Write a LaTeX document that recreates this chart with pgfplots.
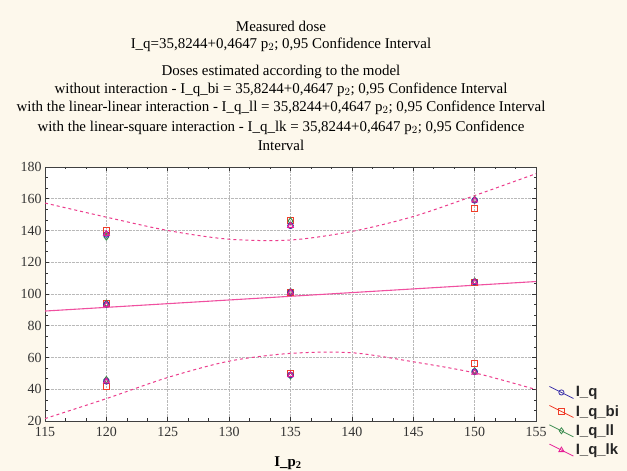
\documentclass[border=0pt]{standalone}
\usepackage{pgfplots}
\pgfplotsset{compat=1.18}
\usepackage{fontspec}
\setmainfont{Liberation Serif}
\newfontfamily\legfont{Liberation Sans}
\definecolor{cream}{RGB}{253,248,236}
\definecolor{bandpink}{RGB}{236,60,140}
\definecolor{linepink}{RGB}{240,80,160}
\definecolor{cIq}{RGB}{60,50,170}
\definecolor{cbi}{RGB}{240,60,40}
\definecolor{cll}{RGB}{60,140,80}
\definecolor{clk}{RGB}{230,30,150}
\begin{document}
\begin{tikzpicture}[x=1bp,y=1bp]
\fill[cream] (0,0) rectangle (627,471);
\tikzset{tl/.style={font=\fontsize{15}{17}\selectfont, text height=10.5bp, text depth=3.5bp, anchor=center, inner sep=0pt}}
\node[tl] at (281,443) {Measured dose};
\node[tl] at (281,426) {I\_q=35,8244+0,4647 p$_2$; 0,95 Confidence Interval};
\node[tl] at (281,399) {Doses estimated according to the model};
\node[tl] at (281,381) {without interaction - I\_q\_bi = 35,8244+0,4647 p$_2$; 0,95 Confidence Interval};
\node[tl] at (281,363) {with the linear-linear interaction - I\_q\_ll = 35,8244+0,4647 p$_2$; 0,95 Confidence Interval};
\node[tl] at (281,343) {with the linear-square interaction - I\_q\_lk = 35,8244+0,4647 p$_2$; 0,95 Confidence};
\node[tl] at (281,324) {Interval};
\node[font=\fontsize{15}{17}\selectfont\bfseries, anchor=center, inner sep=0pt] at (288,8) {I\_p$_{\mathbf 2}$};
\begin{axis}[
  at={(45bp,50bp)}, anchor=south west,
  scale only axis, width=491bp, height=254bp,
  xmin=115, xmax=155, ymin=20, ymax=180,
  xtick distance=5, ytick distance=20, minor tick num=2,
  xtick pos=both, ytick pos=both, tick align=inside,
  major tick length=4bp, minor tick length=2.5bp,
  tick style={black!80, line width=0.6bp},
  axis line style={black!75, line width=0.9bp},
  grid=major, major grid style={densely dotted, gray!55, line width=0.6bp},
  axis background/.style={fill=white},
  /pgf/number format/assume math mode=true,
  ticklabel style={font=\fontsize{14}{16}\selectfont, text=black!80},
  xticklabel style={yshift=-3bp},
  legend style={at={(1.02,0.152)}, anchor=north west, draw=none, fill=none,
    font=\legfont\bfseries\fontsize{15}{17}\selectfont, row sep=3bp,
    nodes={text=black!85}},
  legend cell align=left,
  legend image code/.code={\draw[#1, mark repeat=2, mark phase=2] plot coordinates {(0bp,6bp) (12bp,0bp) (24bp,-6bp)};},
]
% confidence bands
\addplot[bandpink, line width=1bp, dash pattern=on 3bp off 3bp, smooth, forget plot] coordinates {
(115,157.3) (120,148.4) (125,140) (130,134.5) (135,134) (140,139.4) (145,148.8) (150,162) (155,175.8)};
\addplot[bandpink, line width=1bp, dash pattern=on 3bp off 3bp, smooth, forget plot] coordinates {
(115,21.5) (120,34.1) (125,47.4) (130,57.7) (135,62.6) (140,63) (145,57.3) (150,50.3) (155,39.8)};
% fitted line
\addplot[linepink, line width=1.1bp, forget plot] coordinates {(115,89.26) (155,107.85)};
% data
\addplot[only marks, mark=square, mark size=3bp, cbi, line width=1bp, forget plot] coordinates {
(120,140) (120,94) (120,42) (135,146.5) (135,101) (135,50) (150,154) (150,107.5) (150,56)};
\addplot[only marks, mark=diamond, mark size=3.2bp, cll, line width=1bp, forget plot] coordinates {
(120,136) (120,94) (120,46) (135,146) (135,101.5) (135,48.5) (150,159.5) (150,108) (150,51.5)};
\addplot[only marks, mark=o, mark size=2.8bp, cIq, line width=1bp, forget plot] coordinates {
(120,137.5) (120,93.5) (120,45) (135,143) (135,101) (135,49) (150,159) (150,107.5) (150,51)};
\addplot[only marks, mark=triangle, mark size=3.2bp, clk, line width=1bp, forget plot] coordinates {
(120,138) (120,93) (120,45) (135,143) (135,101) (135,49) (150,159) (150,107.5) (150,50.5)};
\addlegendimage{cIq, line width=0.8bp, mark=o, mark size=2.6bp}
\addlegendentry{I\_q}
\addlegendimage{cbi, line width=0.8bp, mark=square, mark size=2.8bp}
\addlegendentry{I\_q\_bi}
\addlegendimage{cll, line width=0.8bp, mark=diamond, mark size=3bp}
\addlegendentry{I\_q\_ll}
\addlegendimage{clk, line width=0.8bp, mark=triangle, mark size=3bp}
\addlegendentry{I\_q\_lk}
\end{axis}
\end{tikzpicture}
\end{document}
